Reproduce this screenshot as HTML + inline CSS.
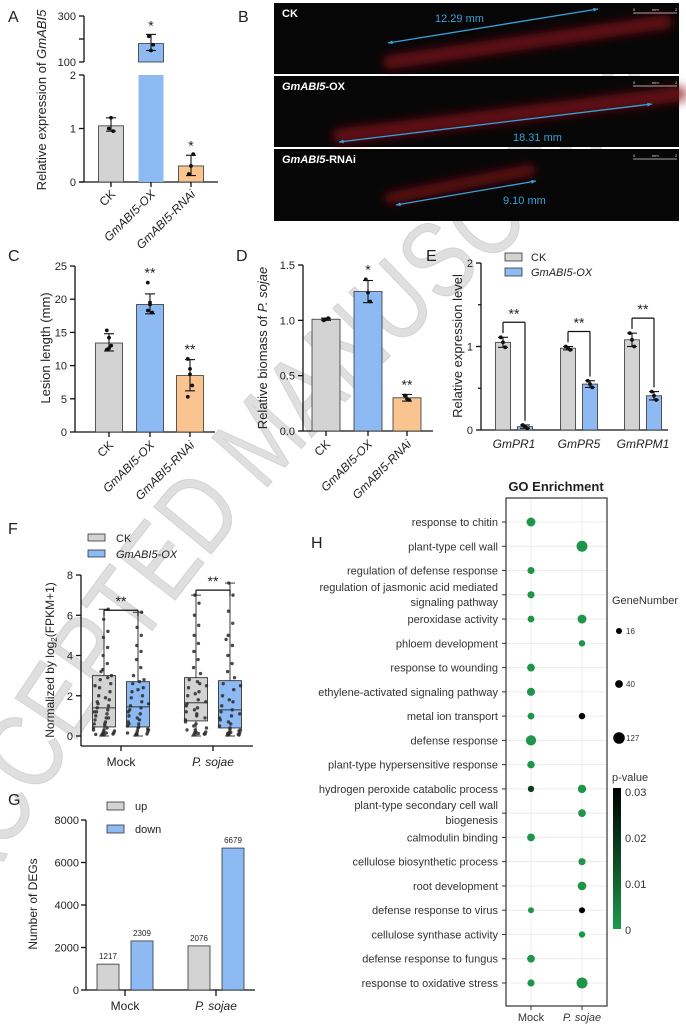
<!DOCTYPE html>
<html><head><meta charset="utf-8"><style>
html,body{margin:0;padding:0;background:#fff;}
svg{display:block;font-family:"Liberation Sans",Arial,sans-serif;}
</style></head><body>
<svg id="fig" width="686" height="1025" viewBox="0 0 686 1025" xmlns="http://www.w3.org/2000/svg">
<defs>
<linearGradient id="pgrad" x1="0" y1="0" x2="0" y2="1"><stop offset="0" stop-color="#000"/><stop offset="0.5" stop-color="#0c4a22"/><stop offset="1" stop-color="#1f9a4b"/></linearGradient>
<filter id="blur" x="-20%" y="-50%" width="140%" height="200%"><feGaussianBlur stdDeviation="5"/></filter>
</defs>
</svg>
<script>
// ---------- DATA ----------
const aCats=['CK','GmABI5-OX','GmABI5-RNAi'];
const aVals=[1.05,180,0.3];
const aErrLo=[0.95,150,0.12];
const aErrHi=[1.2,220,0.5];
const aDots=[[1.0,1.2,0.95],[212,150,175],[0.15,0.3,0.52]];
const aStars=['','*','*'];

const cVals=[13.4,19.2,8.5];
const cErrLo=[12.2,17.8,6.2];
const cErrHi=[14.8,20.8,10.9];
const cDots=[[15.3,12.6,13.0,12.4,14.2],[22.5,19.5,18.0,18.3,19.2],[11.0,9.5,7.0,5.3,8.7]];
const cStars=['','**','**'];
const cTicks=[0,5,10,15,20,25];

const dVals=[1.01,1.26,0.3];
const dErrLo=[1.0,1.16,0.27];
const dErrHi=[1.02,1.36,0.33];
const dDots=[[1.0,1.01,1.02],[1.37,1.25,1.17],[0.32,0.29,0.28]];
const dStars=['','*','**'];
const dTicks=[0,0.5,1.0,1.5];

const eGenes=['GmPR1','GmPR5','GmRPM1'];
const eCK=[1.05,0.98,1.08];
const eCKerr=[0.06,0.02,0.08];
const eOX=[0.04,0.55,0.41];
const eOXerr=[0.02,0.04,0.05];
const eTicks=[0,1,2];

const fGroups=['Mock','P. sojae'];
const fBoxCK=[[0.0,0.45,1.4,3.0,6.3],[0.0,0.75,1.65,2.9,7.0]];
const fBoxOX=[[0.0,0.45,1.45,2.7,6.15],[0.0,0.4,1.3,2.75,7.6]];
const fPtsCK=[[0.05,0.1,0.1,0.15,0.2,0.25,0.3,0.4,0.5,0.6,0.7,0.8,0.9,1.0,1.1,1.2,1.3,1.4,1.5,1.6,1.8,2.0,2.2,2.4,2.6,2.8,3.0,3.3,3.6,4.0,4.4,4.9,5.2,5.8,6.3,0.05,0.3,0.6,1.2,1.9,2.5,0.15,0.08,0.4,3.2,2.9,1.7,0.9],
 [0.05,0.1,0.15,0.2,0.3,0.4,0.6,0.8,1.0,1.2,1.4,1.6,1.8,2.0,2.2,2.4,2.6,2.8,3.1,3.4,3.8,4.2,4.6,5.0,5.5,6.0,6.6,7.0,0.1,0.5,0.9,1.3,1.7,2.1,2.5,0.2,0.7,1.1,1.5,2.7,0.3,0.12]];
const fPtsOX=[[0.05,0.1,0.12,0.2,0.25,0.3,0.4,0.5,0.6,0.7,0.8,1.0,1.1,1.3,1.4,1.5,1.7,1.9,2.0,2.2,2.4,2.6,2.8,3.0,3.4,3.8,4.2,4.5,5.0,5.4,6.15,0.08,0.35,0.9,1.6,2.3,0.15,0.45,1.2,2.7,0.6],
 [0.05,0.05,0.1,0.15,0.2,0.3,0.4,0.5,0.6,0.8,1.0,1.2,1.3,1.5,1.7,2.0,2.3,2.6,2.9,3.2,3.6,4.0,4.5,5.0,5.6,6.2,7.0,7.6,0.08,0.12,0.25,0.7,1.1,1.8,2.5,0.35,0.9,0.18,4.8]];
const fStarsY=[6.6,7.6];

const gGroups=['Mock','P. sojae'];
const gUp=[1217,2076];
const gDown=[2309,6679];
const gTicks=[0,2000,4000,6000,8000];

const goTerms=['response to chitin','plant-type cell wall','regulation of defense response',
 'regulation of jasmonic acid mediated|signaling pathway','peroxidase activity','phloem development',
 'response to wounding','ethylene-activated signaling pathway','metal ion transport','defense response',
 'plant-type hypersensitive response','hydrogen peroxide catabolic process','plant-type secondary cell wall|biogenesis',
 'calmodulin binding','cellulose biosynthetic process','root development','defense response to virus',
 'cellulose synthase activity','defense response to fungus','response to oxidative stress'];
const goMockN=[60,null,30,30,25,null,40,45,25,90,35,20,null,40,null,null,16,null,40,30];
const goMockP=[0.001,null,0.001,0.001,0.001,null,0.001,0.001,0.001,0.001,0.001,0.018,null,0.001,null,null,0.001,null,0.001,0.001];
const goPsN=[null,110,null,null,60,20,null,null,20,null,null,50,40,null,30,55,16,20,null,110];
const goPsP=[null,0.001,null,null,0.001,0.001,null,null,0.03,null,null,0.001,0.001,null,0.001,0.001,0.03,0.001,null,0.001];
const sizeLegend=[16,40,127];
const pTicks=[0,0.01,0.02,0.03];

// ---------- HELPERS ----------
const NS='http://www.w3.org/2000/svg';
const svg=document.getElementById('fig');
function add(p,tag,a,name){
  const el=document.createElementNS(NS,tag);
  for(const k in a) el.setAttribute(k,a[k]);
  
  
  p.appendChild(el);return el;
}
function grp(name){return add(svg,'g',{},name);}
function txt(p,x,y,s,a,name){const t=add(p,'text',Object.assign({x:x,y:y,'font-size':11,fill:'#222'},a||{}),name);t.textContent=s;return t;}
function line(p,x1,y1,x2,y2,name,c,w){return add(p,'line',{x1:x1,y1:y1,x2:x2,y2:y2,stroke:c||'#111',"stroke-width":w||1.3},name);}
function lin(d0,d1,r0,r1){return v=>r0+(v-d0)/(d1-d0)*(r1-r0);}
const GRAY='#d3d3d3',BLUE='#8dbaf3',ORANGE='#f9c48f';
const fills=[GRAY,BLUE,ORANGE];
function panelLabel(x,y,s){txt(svg,x,y,s,{'font-size':16},'panel-label-'+s.toLowerCase());}
function dots(p,cx,vals,ys,name){vals.forEach((v,i)=>{add(p,'circle',{cx:cx+((i%3)-1)*2.2,cy:ys(v),r:1.9,fill:'#111'},name);});}
function errbar(p,cx,lo,hi,ys,name){line(p,cx,ys(lo),cx,ys(hi),name,'#111',1.1);line(p,cx-5,ys(hi),cx+5,ys(hi),name+'-cap','#111',1.1);line(p,cx-5,ys(lo),cx+5,ys(lo),name+'-cap','#111',1.1);}
function xlabRot(p,x,y,s,name){return txt(p,x,y,s,{'font-size':12,'font-style':s==='CK'?'normal':'italic','text-anchor':'end',transform:`rotate(-45 ${x} ${y})`},name);}

// ---------- WATERMARK ----------
(function(){
  const g=grp('watermark');
  add(g,'path',{id:'wmpath',d:'M -20 905 Q 230 430 730 70',fill:'none'},'watermark-path');
  const t=add(g,'text',{'font-size':108,fill:'#c4c4c4','fill-opacity':0.55,stroke:'#b0b0b0','stroke-opacity':0.4,'stroke-width':1},'watermark-text');
  const tp=add(t,'textPath',{href:'#wmpath',textLength:1080,lengthAdjust:'spacingAndGlyphs'},'watermark-textpath');
  tp.textContent='ACCEPTED MANUSCRIPT';
})();

// ---------- PANEL A ----------
(function(){
  panelLabel(8,22,'A');
  const g=grp('panel-a');
  const y0=182, yL=lin(0,2,182,75), yU=lin(100,300,62,16);
  const ax=84, xs=[111,151,191], bw=25;
  line(g,ax,y0,ax,75,'y-axis-lower');line(g,ax,62,ax,16,'y-axis-upper');
  [0,1,2].forEach(t=>{line(g,ax-5,yL(t),ax,yL(t),'y-tick');txt(g,ax-8,yL(t)+4,t,{'text-anchor':'end'},'y-tick-label');});
  [100,300].forEach(t=>{line(g,ax-5,yU(t),ax,yU(t),'y-tick');txt(g,ax-8,yU(t)+4,t,{'text-anchor':'end'},'y-tick-label');});
  line(g,ax-5,yU(200),ax,yU(200),'y-tick');
  line(g,79,y0,218,y0,'x-axis');
  aVals.forEach((v,i)=>{
    const x=xs[i];
    if(v>2){
      add(g,'rect',{x:x-bw/2,y:yL(2),width:bw,height:y0-yL(2),fill:fills[i]},'bar-'+aCats[i]);
      add(g,'rect',{x:x-bw/2,y:yU(v),width:bw,height:62-yU(v),fill:fills[i],stroke:'#333','stroke-width':0.8},'bar-'+aCats[i]+'-upper');
      errbar(g,x,aErrLo[i],aErrHi[i],yU,'error-bar');dots(g,x,aDots[i],yU,'data-point');
      txt(g,x,yU(aErrHi[i])-4,aStars[i],{'text-anchor':'middle','font-size':14},'significance');
    } else {
      add(g,'rect',{x:x-bw/2,y:yL(v),width:bw,height:y0-yL(v),fill:fills[i],stroke:'#333','stroke-width':0.8},'bar-'+aCats[i]);
      errbar(g,x,aErrLo[i],aErrHi[i],yL,'error-bar');dots(g,x,aDots[i],yL,'data-point');
      if(aStars[i])txt(g,x,yL(aErrHi[i])-5,aStars[i],{'text-anchor':'middle','font-size':14},'significance');
    }
    line(g,x,y0,x,y0+5,'x-tick');
    xlabRot(g,x+5,y0+13,aCats[i],'x-tick-label');
  });
  const t=txt(g,46,100,'Relative expression of ',{'font-size':13,'text-anchor':'middle',transform:'rotate(-90 46 100)'},'y-axis-title');
  const ts=add(t,'tspan',{'font-style':'italic'},'y-axis-title-gene');ts.textContent='GmABI5';
})();

// ---------- PANEL B ----------
(function(){
  panelLabel(238,22,'B');
  const g=grp('panel-b');
  const panes=[
    {y:3,h:71,lab:'CK',it:'',streak:[390,62,665,22],arrow:[388,43,598,9],mm:'12.29 mm',mx:435,my:22,w:14},
    {y:76,h:71,lab:'-OX',it:'GmABI5',streak:[340,136,680,94],arrow:[339,142,652,104],mm:'18.31 mm',mx:513,my:141,w:15},
    {y:149,h:72,lab:'-RNAi',it:'GmABI5',streak:[390,198,530,170],arrow:[396,205,536,181],mm:'9.10 mm',mx:503,my:204,w:11}];
  panes.forEach((p,i)=>{
    add(g,'rect',{x:274,y:p.y,width:405,height:p.h,fill:'#060606'},'micrograph-'+i);
    const s=p.streak;
    add(g,'line',{x1:s[0],y1:s[1],x2:s[2],y2:s[3],stroke:'#8a1018','stroke-width':p.w,'stroke-linecap':'round',filter:'url(#blur)','stroke-opacity':0.75},'lesion-glow');
    const a=p.arrow;
    line(g,a[0],a[1],a[2],a[3],'length-arrow','#3aa0d8',1.3);
    [[a[0],a[1],a[2],a[3]],[a[2],a[3],a[0],a[1]]].forEach(q=>{
      const ang=Math.atan2(q[1]-q[3],q[0]-q[2]);
      const pts=[[q[0],q[1]],[q[0]-5*Math.cos(ang-0.4),q[1]-5*Math.sin(ang-0.4)],[q[0]-5*Math.cos(ang+0.4),q[1]-5*Math.sin(ang+0.4)]];
      add(g,'polygon',{points:pts.map(z=>z.join(',')).join(' '),fill:'#3aa0d8'},'arrow-head');
    });
    txt(g,p.mx,p.my,p.mm,{'font-size':11,fill:'#3aa0d8'},'length-label');
    const t=txt(g,282,p.y+14,'',{'font-size':11,'font-weight':'bold',fill:'#fff'},'sample-label');
    if(p.it){const ts=add(t,'tspan',{'font-style':'italic'},'gene-name');ts.textContent=p.it;}
    const ts2=add(t,'tspan',{},'sample-suffix');ts2.textContent=p.lab;
    line(g,633,p.y+10,677,p.y+10,'scale-bar','#ddd',0.8);
    txt(g,633,p.y+8,'0',{'font-size':4,fill:'#ddd'},'scale-label');
    txt(g,652,p.y+8,'mm',{'font-size':4,fill:'#ddd'},'scale-label');
    txt(g,675,p.y+8,'2',{'font-size':4,fill:'#ddd'},'scale-label');
  });
})();

// ---------- PANEL C ----------
(function(){
  panelLabel(8,261,'C');
  const g=grp('panel-c');
  const y0=432, ys=lin(0,25,432,266), ax=75, xs=[109,150,190], bw=27;
  line(g,ax,y0,ax,266,'y-axis');line(g,ax,y0,215,y0,'x-axis');
  cTicks.forEach(t=>{line(g,ax-5,ys(t),ax,ys(t),'y-tick');txt(g,ax-8,ys(t)+4,t,{'text-anchor':'end'},'y-tick-label');});
  cVals.forEach((v,i)=>{
    const x=xs[i];
    add(g,'rect',{x:x-bw/2,y:ys(v),width:bw,height:y0-ys(v),fill:fills[i],stroke:'#333','stroke-width':0.8},'bar-'+aCats[i]);
    errbar(g,x,cErrLo[i],cErrHi[i],ys,'error-bar');dots(g,x,cDots[i],ys,'data-point');
    if(cStars[i])txt(g,x,ys(Math.max(cErrHi[i],...cDots[i]))-5,cStars[i],{'text-anchor':'middle','font-size':14},'significance');
    line(g,x,y0,x,y0+5,'x-tick');xlabRot(g,x+5,y0+14,aCats[i],'x-tick-label');
  });
  txt(g,50,348,'Lesion length (mm)',{'font-size':13,'text-anchor':'middle',transform:'rotate(-90 50 348)'},'y-axis-title');
})();

// ---------- PANEL D ----------
(function(){
  panelLabel(236,261,'D');
  const g=grp('panel-d');
  const y0=431, ys=lin(0,1.5,431,265), ax=303, xs=[326,368,407], bw=28;
  line(g,ax,y0,ax,265,'y-axis');line(g,ax,y0,433,y0,'x-axis');
  dTicks.forEach(t=>{line(g,ax-5,ys(t),ax,ys(t),'y-tick');txt(g,ax-8,ys(t)+4,t.toFixed(1),{'text-anchor':'end'},'y-tick-label');});
  dVals.forEach((v,i)=>{
    const x=xs[i];
    add(g,'rect',{x:x-bw/2,y:ys(v),width:bw,height:y0-ys(v),fill:fills[i],stroke:'#333','stroke-width':0.8},'bar-'+aCats[i]);
    errbar(g,x,dErrLo[i],dErrHi[i],ys,'error-bar');dots(g,x,dDots[i],ys,'data-point');
    if(dStars[i])txt(g,x,ys(Math.max(dErrHi[i],...dDots[i]))-5,dStars[i],{'text-anchor':'middle','font-size':14},'significance');
    line(g,x,y0,x,y0+5,'x-tick');xlabRot(g,x+5,y0+14,aCats[i],'x-tick-label');
  });
  const t=txt(g,267,348,'Relative biomass of ',{'font-size':13,'text-anchor':'middle',transform:'rotate(-90 267 348)'},'y-axis-title');
  const ts=add(t,'tspan',{'font-style':'italic'},'y-axis-title-species');ts.textContent='P. sojae';
})();

// ---------- PANEL E ----------
(function(){
  panelLabel(426,261,'E');
  const g=grp('panel-e');
  const y0=430, ys=lin(0,2,430,263), ax=481, gx=[514,579,643], bw=15;
  line(g,ax,y0,ax,263,'y-axis');line(g,ax,y0,668,y0,'x-axis');
  eTicks.forEach(t=>{line(g,ax-5,ys(t),ax,ys(t),'y-tick');txt(g,ax-8,ys(t)+4,t,{'text-anchor':'end'},'y-tick-label');});
  [0.5,1.5].forEach(t=>line(g,ax-3,ys(t),ax,ys(t),'y-minor-tick'));
  eGenes.forEach((gn,i)=>{
    const xc=gx[i]-11, xo=gx[i]+11;
    add(g,'rect',{x:xc-bw/2,y:ys(eCK[i]),width:bw,height:y0-ys(eCK[i]),fill:GRAY,stroke:'#333','stroke-width':0.8},'bar-ck-'+gn);
    add(g,'rect',{x:xo-bw/2,y:ys(eOX[i]),width:bw,height:y0-ys(eOX[i]),fill:BLUE,stroke:'#333','stroke-width':0.8},'bar-ox-'+gn);
    errbar(g,xc,eCK[i]-eCKerr[i],eCK[i]+eCKerr[i],ys,'error-bar');
    errbar(g,xo,eOX[i]-eOXerr[i],eOX[i]+eOXerr[i],ys,'error-bar');
    dots(g,xc,[eCK[i]+eCKerr[i],eCK[i],eCK[i]-eCKerr[i]],ys,'data-point');
    dots(g,xo,[eOX[i]+eOXerr[i],eOX[i],eOX[i]-eOXerr[i]],ys,'data-point');
    const by=ys(Math.max(eCK[i],eOX[i])+eCKerr[i]+0.18);
    line(g,xc,by,xo,by,'significance-bracket','#111',1.2);
    line(g,xc,by,xc,ys(eCK[i]+eCKerr[i]+0.05),'significance-bracket','#111',1.2);
    line(g,xo,by,xo,ys(eOX[i]+eOXerr[i]+0.05),'significance-bracket','#111',1.2);
    txt(g,gx[i],by-4,'**',{'text-anchor':'middle','font-size':14},'significance');
    txt(g,gx[i],448,gn,{'text-anchor':'middle','font-style':'italic','font-size':12},'x-tick-label');
  });
  add(g,'rect',{x:505,y:253,width:17,height:8,fill:GRAY,stroke:'#333','stroke-width':0.8},'legend-swatch-ck');
  txt(g,531,261,'CK',{'font-size':11},'legend-label-ck');
  add(g,'rect',{x:505,y:268,width:17,height:8,fill:BLUE,stroke:'#333','stroke-width':0.8},'legend-swatch-ox');
  txt(g,531,276,'GmABI5-OX',{'font-size':11,'font-style':'italic'},'legend-label-ox');
  txt(g,462,346,'Relative expression level',{'font-size':13,'text-anchor':'middle',transform:'rotate(-90 462 346)'},'y-axis-title');
})();

// ---------- PANEL F ----------
(function(){
  panelLabel(8,534,'F');
  const g=grp('panel-f');
  const ys=lin(0,8,736,575), ax=81, gx=[121,213], bw=23;
  line(g,ax,746,ax,575,'y-axis');line(g,ax,746,253,746,'x-axis');
  [0,2,4,6,8].forEach(t=>{line(g,ax-5,ys(t),ax,ys(t),'y-tick');txt(g,ax-8,ys(t)+4,t,{'text-anchor':'end'},'y-tick-label');});
  function box(cx,b,pts,fill,name){
    line(g,cx,ys(b[0]),cx,ys(b[4]),name+'-whisker','#222',0.9);
    line(g,cx-5,ys(b[4]),cx+5,ys(b[4]),name+'-whisker-cap','#222',0.9);
    line(g,cx-5,ys(b[0]),cx+5,ys(b[0]),name+'-whisker-cap','#222',0.9);
    add(g,'rect',{x:cx-bw/2,y:ys(b[3]),width:bw,height:ys(b[1])-ys(b[3]),fill:fill,stroke:'#333','stroke-width':0.9},name+'-box');
    line(g,cx-bw/2,ys(b[2]),cx+bw/2,ys(b[2]),name+'-median','#333',1);
    pts.forEach((v,i)=>{const h=((i*73+11)%29)/14-1;const jx=h*(bw/2-1)*(v<3.2?1:0.4);add(g,'circle',{cx:cx+jx,cy:ys(v),r:1.7,fill:'#2a2a2a','fill-opacity':0.85},name+'-point');});
  }
  fGroups.forEach((gn,i)=>{
    const c1=gx[i]-17, c2=gx[i]+17;
    box(c1,fBoxCK[i],fPtsCK[i],GRAY,'box-ck-'+i);
    box(c2,fBoxOX[i],fPtsOX[i],BLUE,'box-ox-'+i);
    const by=ys(fStarsY[i]-0.35);
    line(g,c1,by,c2,by,'significance-bracket','#111',1.2);
    line(g,c1,by,c1,by+6,'significance-bracket','#111',1.2);
    line(g,c2,by,c2,by+6,'significance-bracket','#111',1.2);
    txt(g,gx[i],by-4,'**',{'text-anchor':'middle','font-size':14},'significance');
    line(g,gx[i],746,gx[i],751,'x-tick');
    txt(g,gx[i],766,gn,{'text-anchor':'middle','font-size':12,'font-style':i?'italic':'normal'},'x-tick-label');
  });
  add(g,'rect',{x:88,y:534,width:17,height:7,fill:GRAY,stroke:'#333','stroke-width':0.8},'legend-swatch-ck');
  txt(g,116,542,'CK',{'font-size':11},'legend-label-ck');
  add(g,'rect',{x:88,y:550,width:17,height:7,fill:BLUE,stroke:'#333','stroke-width':0.8},'legend-swatch-ox');
  txt(g,116,558,'GmABI5-OX',{'font-size':11,'font-style':'italic'},'legend-label-ox');
  const t=txt(g,54,660,'Normalized by log',{'font-size':12,'text-anchor':'middle',transform:'rotate(-90 54 660)'},'y-axis-title');
  const s=add(t,'tspan',{'font-size':8,dy:3},'y-axis-title-sub');s.textContent='2';
  const s2=add(t,'tspan',{dy:-3},'y-axis-title-end');s2.textContent='(FPKM+1)';
})();

// ---------- PANEL G ----------
(function(){
  panelLabel(8,805,'G');
  const g=grp('panel-g');
  const ys=lin(0,8000,990,820), ax=86, gx=[125,216], bw=22;
  line(g,ax,990,ax,820,'y-axis');line(g,ax,990,255,990,'x-axis');
  gTicks.forEach(t=>{line(g,ax-5,ys(t),ax,ys(t),'y-tick');txt(g,ax-7,ys(t)+4,t,{'text-anchor':'end'},'y-tick-label');});
  gGroups.forEach((gn,i)=>{
    const cu=gx[i]-17, cd=gx[i]+17;
    add(g,'rect',{x:cu-bw/2,y:ys(gUp[i]),width:bw,height:990-ys(gUp[i]),fill:GRAY,stroke:'#333','stroke-width':0.8},'bar-up-'+i);
    add(g,'rect',{x:cd-bw/2,y:ys(gDown[i]),width:bw,height:990-ys(gDown[i]),fill:BLUE,stroke:'#333','stroke-width':0.8},'bar-down-'+i);
    txt(g,cu,ys(gUp[i])-5,gUp[i],{'text-anchor':'middle','font-size':8},'bar-value-label');
    txt(g,cd,ys(gDown[i])-5,gDown[i],{'text-anchor':'middle','font-size':8},'bar-value-label');
    line(g,gx[i],990,gx[i],996,'x-tick');
    txt(g,gx[i],1010,gn,{'text-anchor':'middle','font-size':12,'font-style':i?'italic':'normal'},'x-tick-label');
  });
  add(g,'rect',{x:107,y:802,width:17,height:8,fill:GRAY,stroke:'#333','stroke-width':0.8},'legend-swatch-up');
  txt(g,135,810,'up',{'font-size':11},'legend-label-up');
  add(g,'rect',{x:107,y:825,width:17,height:8,fill:BLUE,stroke:'#333','stroke-width':0.8},'legend-swatch-down');
  txt(g,135,833,'down',{'font-size':11},'legend-label-down');
  txt(g,37,904,'Number of DEGs',{'font-size':12,'text-anchor':'middle',transform:'rotate(-90 37 904)'},'y-axis-title');
})();

// ---------- PANEL H ----------
(function(){
  panelLabel(311,548,'H');
  const g=grp('panel-h');
  const bx=506,bw=101,by=498,bh=508, xM=531, xP=582;
  const yr=lin(0,goTerms.length-1,522,983);
  const rad=n=>1.5+0.38*Math.sqrt(n);
  const pc=p=>{const t=Math.min(1,p/0.03);const lerp=(a,b)=>Math.round(a+(b-a)*t);return `rgb(${lerp(31,0)},${lerp(154,0)},${lerp(75,0)})`;};
  txt(g,556,491,'GO Enrichment',{'font-size':13,'font-weight':'bold','text-anchor':'middle'},'chart-title');
  goTerms.forEach((term,i)=>{const y=yr(i);line(g,bx,y,bx+bw,y,'gridline','#ececec',1);});
  line(g,xM,by,xM,by+bh,'gridline','#ececec',1);line(g,xP,by,xP,by+bh,'gridline','#ececec',1);
  add(g,'rect',{x:bx,y:by,width:bw,height:bh,fill:'none',stroke:'#333','stroke-width':1.2},'plot-frame');
  goTerms.forEach((term,i)=>{
    const y=yr(i);
    line(g,bx-4,y,bx,y,'y-tick','#333',1);
    const parts=term.split('|');
    if(parts.length===1) txt(g,498,y+4,term,{'text-anchor':'end','font-size':11,fill:'#333'},'term-label');
    else {txt(g,498,y-4,parts[0],{'text-anchor':'end','font-size':11,fill:'#333'},'term-label');txt(g,498,y+11,parts[1],{'text-anchor':'end','font-size':11,fill:'#333'},'term-label');}
    if(goMockN[i]!=null) add(g,'circle',{cx:xM,cy:y,r:rad(goMockN[i]),fill:pc(goMockP[i])},'dot-mock');
    if(goPsN[i]!=null) add(g,'circle',{cx:xP,cy:y,r:rad(goPsN[i]),fill:pc(goPsP[i])},'dot-psojae');
  });
  line(g,xM,by+bh,xM,by+bh+4,'x-tick','#333',1);line(g,xP,by+bh,xP,by+bh+4,'x-tick','#333',1);
  txt(g,xM,1021,'Mock',{'text-anchor':'middle','font-size':11,fill:'#333'},'x-tick-label');
  txt(g,xP,1021,'P. sojae',{'text-anchor':'middle','font-size':11,fill:'#333','font-style':'italic'},'x-tick-label');
  txt(g,612,604,'GeneNumber',{'font-size':11,fill:'#333'},'size-legend-title');
  const ly=[631,684,738];
  sizeLegend.forEach((n,i)=>{add(g,'circle',{cx:619,cy:ly[i],r:rad(n),fill:'#000'},'size-legend-dot');txt(g,626,ly[i]+3,n,{'font-size':8,fill:'#333'},'size-legend-label');});
  txt(g,612,781,'p-value',{'font-size':11,fill:'#333'},'color-legend-title');
  add(g,'rect',{x:613,y:788,width:8,height:141,fill:'url(#pgrad)'},'color-bar');
  const cy=lin(0,0.03,929,791);
  pTicks.forEach(p=>txt(g,625,cy(p)+5,p===0?'0':p.toFixed(2),{'font-size':11,fill:'#333'},'color-bar-label'));
})();
</script>
</body></html>
